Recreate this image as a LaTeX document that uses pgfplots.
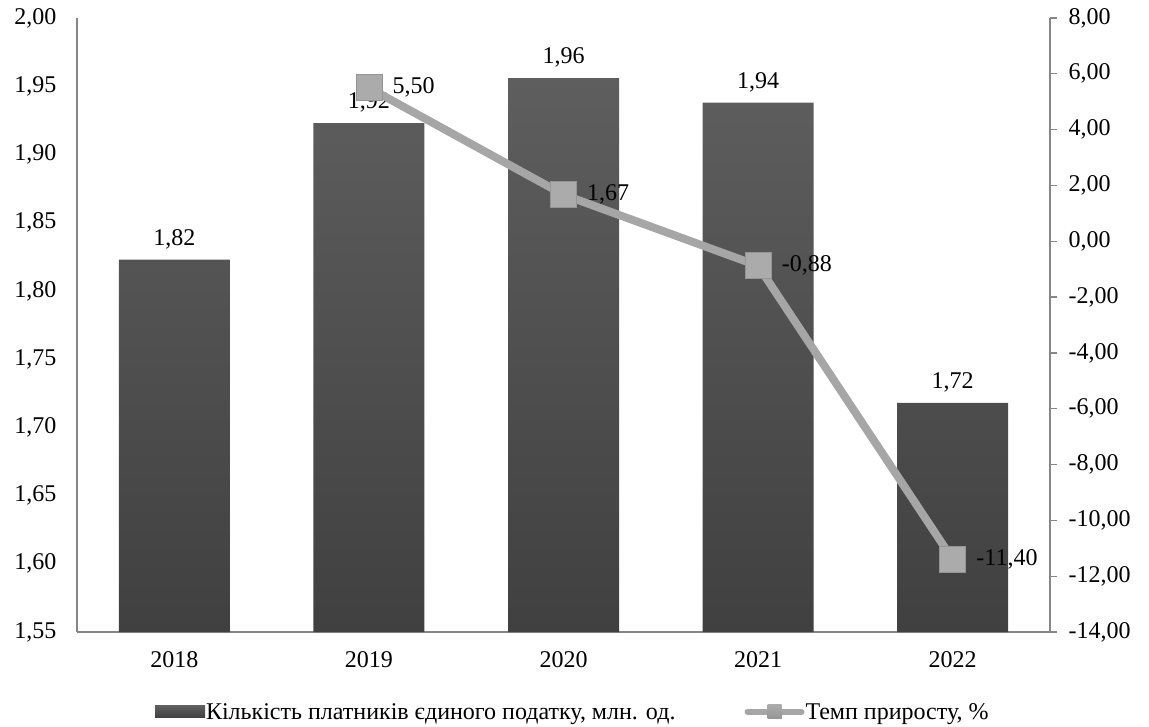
\documentclass[border=0pt]{standalone}
\usepackage{pgfplots}
\pgfplotsset{compat=1.18}
\usepackage{fontspec}
\setmainfont{Liberation Serif}
\definecolor{barTop}{HTML}{5E5E5E}
\definecolor{barBot}{HTML}{404040}
\definecolor{lineC}{HTML}{A6A6A6}
\definecolor{axC}{HTML}{868686}
\definecolor{mkTop}{HTML}{ABABAB}
\definecolor{mkBot}{HTML}{959595}
\begin{document}
\begin{tikzpicture}[font=\fontsize{24}{28}\selectfont]
\pgfplotsset{
  common/.style={
    scale only axis, width=973pt, height=614pt,
    xmin=-0.5, xmax=4.5,
    /pgf/number format/use comma,
    /pgf/number format/fixed,
    /pgf/number format/fixed zerofill,
    /pgf/number format/precision=2,
    /pgf/number format/1000 sep={},
    /pgf/number format/assume math mode=true,
    axis line style={axC, line width=1.2pt, -},
    tick style={axC, line width=1.2pt},
    every node near coord/.append style={text=black, font=\fontsize{24}{28}\selectfont},
  }
}
\begin{axis}[common,
  ymin=1.55, ymax=2.00,
  ytick={1.55,1.60,1.65,1.70,1.75,1.80,1.85,1.90,1.95,2.00},
  axis x line*=bottom, axis y line*=left,
  major tick length=0pt,
  xtick={0,1,2,3,4}, xticklabels={2018,2019,2020,2021,2022},
  xticklabel style={yshift=-16pt},
  yticklabel style={xshift=-17pt},
  ybar, bar width=111pt,
  nodes near coords,
  every node near coord/.append style={yshift=7pt},
]
\addplot[draw=none, top color=barTop, bottom color=barBot]
  coordinates {(0,1.823) (1,1.923) (2,1.956) (3,1.938) (4,1.718)};
\coordinate (bl) at (rel axis cs:0,0);
\coordinate (tr) at (rel axis cs:1,1);
\end{axis}
\begin{axis}[common,
  ymin=-14, ymax=8,
  ytick={-14,-12,-10,-8,-6,-4,-2,0,2,4,6,8},
  axis y line*=right, axis x line=none,
  tick align=outside, major tick length=7pt,
  yticklabel style={xshift=8pt},
  legend columns=2,
  legend style={draw=none, fill=none, at={(0.080,-0.130)}, anchor=west,
    font=\fontsize{24}{28}\selectfont,
    /tikz/every even column/.append style={column sep=68pt},
    inner sep=0pt, nodes={inner sep=1pt}},
]
\addlegendimage{legend image code/.code={\fill[top color=barTop, bottom color=barBot, draw=none] (0pt,-6pt) rectangle (50pt,6pt);}}
\addlegendentry{Кількість платників єдиного податку, млн. од.}
\addplot[lineC, line width=8pt, mark=square*,
  mark options={fill=mkTop, draw=mkBot, line width=0.8pt}, mark size=13pt,
  nodes near coords, nodes near coords align=right,
  every node near coord/.append style={anchor=west, xshift=20pt},
  legend image code/.code={
    \draw[lineC, line width=6pt, line cap=round] (3pt,0pt) -- (57pt,0pt);
    \fill[top color=mkTop, bottom color=mkBot, draw=none] (23pt,-7pt) rectangle (37pt,7pt);}]
  coordinates {(1,5.50) (2,1.67) (3,-0.88) (4,-11.40)};
\addlegendentry{Темп приросту, \%}
\end{axis}
\path ([shift={(-77pt,-94pt)}]bl) rectangle ([shift={(99pt,18pt)}]tr);
\end{tikzpicture}
\end{document}
